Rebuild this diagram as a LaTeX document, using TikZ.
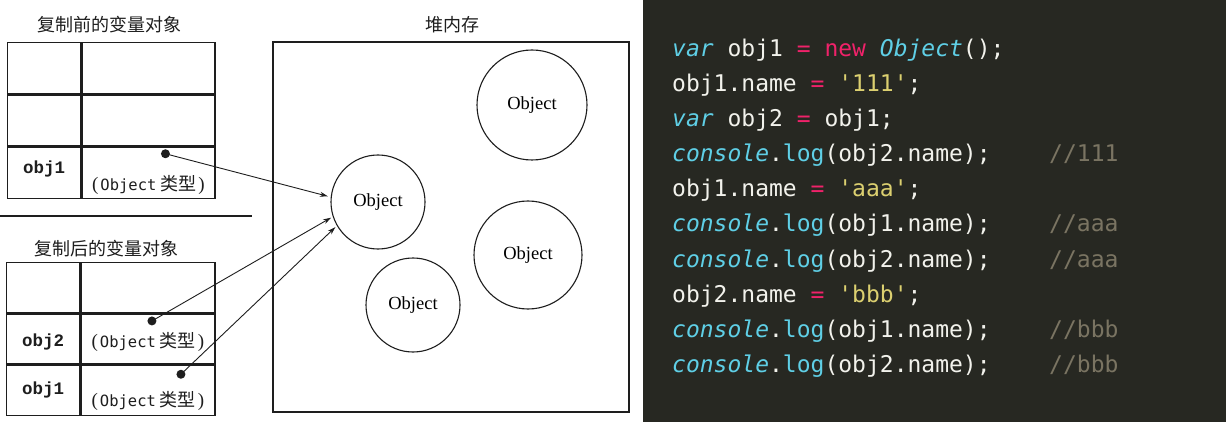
\documentclass[tikz,border=0pt]{standalone}
\usepackage{fontspec}
\setmainfont{Liberation Serif}
\setmonofont{DejaVu Sans Mono}
\newfontfamily\cjk{Noto Sans CJK SC}
\newfontfamily\cellmono{Liberation Mono}
\usepackage{xcolor}
\definecolor{codebg}{HTML}{272822}
\definecolor{codefg}{HTML}{F2F2EC}
\definecolor{kwcyan}{HTML}{5FCFE6}
\definecolor{kwpink}{HTML}{F0226A}
\definecolor{strylw}{HTML}{DCD070}
\definecolor{cmtgray}{HTML}{7A7462}
\definecolor{ink}{HTML}{1E1E1E}
\usepackage{tikz}
\usetikzlibrary{positioning, arrows.meta}

% Syntax colouring for the code panel
\newcommand{\jskw}[1]{\textcolor{kwcyan}{\itshape #1}}
\newcommand{\jsfn}[1]{\textcolor{kwcyan}{#1}}
\newcommand{\jsop}[1]{\textcolor{kwpink}{#1}}
\newcommand{\jsstr}[1]{\textcolor{strylw}{#1}}
% "(Object 类型)" cell text
\newcommand{\objtype}{(\hspace{2pt}{\ttfamily\fontsize{15.5}{18}\selectfont Object}\hspace{4pt}{\cjk\fontsize{18}{21}\selectfont 类型}\hspace{2pt})}

\begin{document}
\begin{tikzpicture}[
  x=1pt, y=-1pt,
  node distance=0pt,
  cellname/.style={draw=ink, line width=1.3pt, minimum width=73pt, minimum height=51pt,
                   inner sep=0pt},
  cellval/.style={draw=ink, line width=1.3pt, minimum width=133pt, minimum height=51pt,
                  inner sep=0pt},
  title/.style={font=\cjk\fontsize{18}{20}\selectfont, text=ink},
  varname/.style={font=\cellmono\bfseries\fontsize{17.5}{19}\selectfont, text=ink},
  typetext/.style={font=\fontsize{19}{21}\selectfont, text=ink},
  dot/.style={circle, fill=ink, inner sep=0pt, minimum size=9pt},
  heapobj/.style={circle, draw=ink, line width=1.1pt, inner sep=0pt,
                  font=\fontsize{18.5}{20}\selectfont},
  ptr/.style={-{Stealth[length=8pt, width=5pt]}, line width=0.9pt, draw=ink},
  codeline/.style={anchor=base west, inner sep=0pt, text=codefg,
                   font=\ttfamily\fontsize{23}{26}\selectfont},
  cmt/.style={codeline, text=cmtgray},
]
\useasboundingbox (0,0) rectangle (1226,422);
\fill[white] (0,0) rectangle (643,422);
\fill[codebg] (643,0) rectangle (1226,422);

% Before copy
\node[title] (beforel) at (109,25) {复制前的变量对象};
\node[cellname, anchor=north west] (pa1) at (7,42) {};
\node[cellval, right=of pa1] (pb1) {};
\node[cellname, below=of pa1] (pa2) {};
\node[cellval, right=of pa2] (pb2) {};
\node[cellname, below=of pa2] (pa3) {};
\node[cellval, right=of pa3] (pb3) {};
\node[varname] (pobj1) at ([yshift=4pt]pa3.center) {obj1};
\node[typetext] (ptype1) at ([yshift=-12pt]pb3.center) {\objtype};
\node[dot] (pdot1) at ([xshift=17pt, yshift=19pt]pb3.center) {};

\draw[ink, line width=1.3pt] (0,216) -- (252,216);

% After copy
\node[title] (afterl) at (106,249) {复制后的变量对象};
\node[cellname, minimum height=50pt, anchor=north west] (qa1) at (6,262) {};
\node[cellval, minimum height=50pt, minimum width=134pt, right=of qa1] (qb1) {};
\node[cellname, minimum height=50pt, below=of qa1] (qa2) {};
\node[cellval, minimum height=50pt, minimum width=134pt, right=of qa2] (qb2) {};
\node[cellname, minimum height=50pt, below=of qa2] (qa3) {};
\node[cellval, minimum height=50pt, minimum width=134pt, right=of qa3] (qb3) {};
\node[varname] (qobj2) at ([yshift=-3pt]qa2.center) {obj2};
\node[typetext] (qtype2) at ([yshift=-3pt]qb2.center) {\objtype};
\node[dot] (qdot2) at ([xshift=4pt, yshift=18pt]qb2.center) {};
\node[varname] (qobj1) at (qa3.center) {obj1};
\node[typetext] (qtype1) at ([yshift=-11pt]qb3.center) {\objtype};
\node[dot] (qdot1) at ([xshift=33pt, yshift=16pt]qb3.center) {};

% Heap
\node[title] (heapl) at (452,25) {堆内存};
\node[draw=ink, line width=1.3pt, minimum width=356pt, minimum height=370pt,
      inner sep=0pt] (heap) at (451,227) {};
\node[heapobj, minimum size=94pt] (obja) at (378,202) {Object};
\node[heapobj, minimum size=110pt] (objb) at (532,105) {Object};
\node[heapobj, minimum size=108pt] (objc) at (528,255) {Object};
\node[heapobj, minimum size=94pt] (objd) at (413,305) {Object};

% References into the heap
\draw[ptr, shorten >=3pt] (pdot1.center) -- (obja.174);
\draw[ptr, shorten >=2pt] (qdot2.center) -- (obja.198);
\draw[ptr, shorten >=2pt] (qdot1.center) -- (obja.210);

% Code panel
\node[codeline] (c1) at (672,57) {\jskw{var} obj1 \jsop{=} \jsop{new} \jskw{Object}();};
\node[codeline] (c2) at (672,92) {obj1.name \jsop{=} \jsstr{'111'};};
\node[codeline] (c3) at (672,127) {\jskw{var} obj2 \jsop{=} obj1;};
\node[codeline] (c4) at (672,162) {\jskw{console}.\jsfn{log}(obj2.name);};
\node[codeline] (c5) at (672,197) {obj1.name \jsop{=} \jsstr{'aaa'};};
\node[codeline] (c6) at (672,232) {\jskw{console}.\jsfn{log}(obj1.name);};
\node[codeline] (c7) at (672,267) {\jskw{console}.\jsfn{log}(obj2.name);};
\node[codeline] (c8) at (672,302) {obj2.name \jsop{=} \jsstr{'bbb'};};
\node[codeline] (c9) at (672,337) {\jskw{console}.\jsfn{log}(obj1.name);};
\node[codeline] (c10) at (672,372) {\jskw{console}.\jsfn{log}(obj2.name);};

% Comments
\node[cmt] (m4) at (1049,162) {//111};
\node[cmt] (m6) at (1049,232) {//aaa};
\node[cmt] (m7) at (1049,267) {//aaa};
\node[cmt] (m9) at (1049,337) {//bbb};
\node[cmt] (m10) at (1049,372) {//bbb};
\end{tikzpicture}
\end{document}
